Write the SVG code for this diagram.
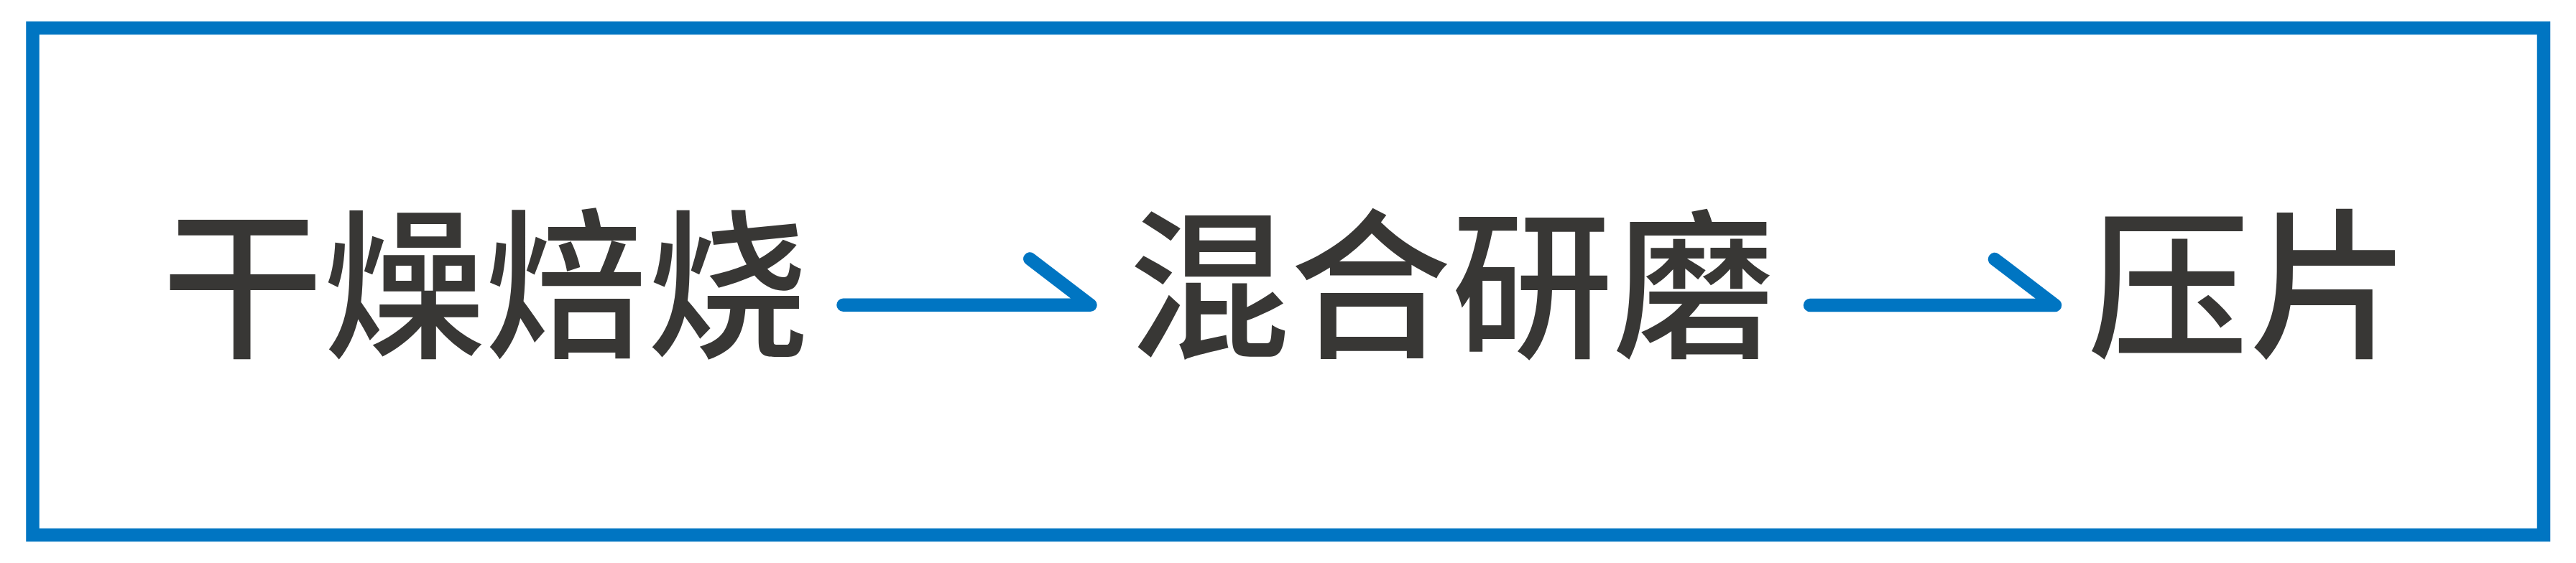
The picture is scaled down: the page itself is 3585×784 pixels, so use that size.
<svg xmlns="http://www.w3.org/2000/svg" width="3585" height="784" viewBox="0 0 3585 784">
  <style>
    .frame { fill: #ffffff; stroke: #0075C2; stroke-width: 18.5; }
    .label { font-family: "Noto Sans CJK SC", "Noto Sans CJK TC", sans-serif; font-size: 225px; font-weight: 500; fill: #383735; text-anchor: middle; }
    .arrow { fill: none; stroke: #0075C2; stroke-width: 18.5; stroke-linecap: round; stroke-linejoin: round; }
  </style>
  <rect x="0" y="0" width="3585" height="784" fill="#ffffff"/>
  <rect class="frame" x="45.5" y="39" width="3494.5" height="706"/>
  <g id="node-drying">
    <text class="label" x="675" y="481">干燥焙烧</text>
  </g>
  <g id="node-mixing">
    <text class="label" x="2020" y="481">混合研磨</text>
  </g>
  <g id="node-pressing">
    <text class="label" x="3130" y="481">压片</text>
  </g>
  <g id="connectors">
    <path class="arrow" d="M1173.5,424.8 H1517.5 L1433.3,360.5"/>
    <path class="arrow" d="M2519,425 H2860 L2776,361"/>
  </g>
</svg>
